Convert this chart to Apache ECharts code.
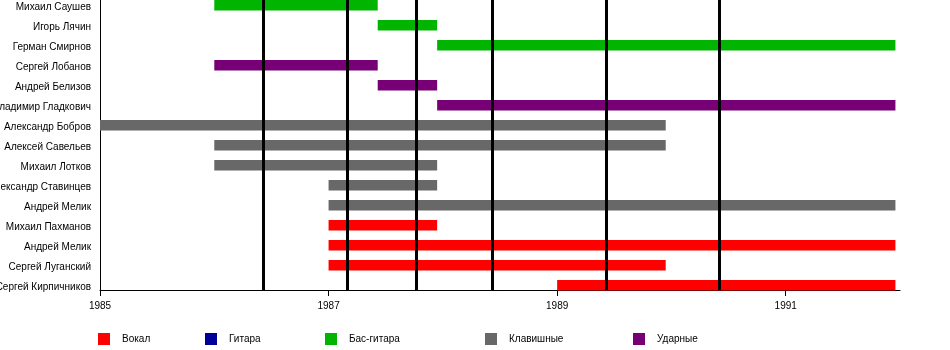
<!DOCTYPE html>
<html>
<head>
<meta charset="utf-8">
<script src="https://cdn.jsdelivr.net/npm/echarts@6/dist/echarts.min.js"></script>
<style>
    html, body { margin: 0; padding: 0; background: #fff; }
    #timeline-chart { width: 950px; height: 350px; }
</style>
</head>
<body>
<div id="timeline-chart"></div>
<script>
    // row names, top to bottom
    const members = [
        'Михаил Саушев', 'Игорь Лячин', 'Герман Смирнов',
        'Сергей Лобанов', 'Андрей Белизов', 'Владимир Гладкович',
        'Александр Бобров', 'Алексей Савельев', 'Михаил Лотков',
        'Александр Ставинцев', 'Андрей Мелик', 'Михаил Пахманов',
        'Андрей Мелик', 'Сергей Луганский', 'Сергей Кирпичников'
    ]

    // [row, from, to] in years
    const vocals = [[11, 1987.0, 1987.95], [12, 1987.0, 1991.96], [13, 1987.0, 1989.95], [14, 1989.0, 1991.96]]
    const guitar = []
    const bass = [[0, 1986.0, 1987.43], [1, 1987.43, 1987.95], [2, 1987.95, 1991.96]]
    const keys = [[6, 1985.0, 1989.95], [7, 1986.0, 1989.95], [8, 1986.0, 1987.95], [9, 1987.0, 1987.95], [10, 1987.0, 1991.96]]
    const drums = [[3, 1986.0, 1987.43], [4, 1987.43, 1987.95], [5, 1987.95, 1991.96]]

    // vertical event lines (albums)
    const eventYears = [1986.43, 1987.16, 1987.77, 1988.43, 1989.43, 1990.42]

    const startYear = 1985
    const endYear = 1992
    const labelYears = [1985, 1987, 1989, 1991]

    const roles = [
        {name: 'Вокал', color: '#ff0000', data: vocals, left: 98},
        {name: 'Гитара', color: '#000099', data: guitar, left: 205},
        {name: 'Бас-гитара', color: '#00b400', data: bass, left: 325},
        {name: 'Клавишные', color: '#686868', data: keys, left: 485},
        {name: 'Ударные', color: '#770077', data: drums, left: 633}
    ]

    const font = 'Liberation Sans, Arial, sans-serif'

    function renderBar (params, api) {
        let row = api.value(0)
        let from = api.coord([api.value(1), row])
        let to = api.coord([api.value(2), row])
        let band = api.size([0, 1])[1]
        return {
            type: 'rect',
            shape: {x: from[0], y: from[1], width: to[0] - from[0], height: band * 0.53},
            style: api.style()
        }
    }

    let series = roles.map(role => ({
        name: role.name,
        type: 'custom',
        renderItem: renderBar,
        itemStyle: {color: role.color},
        encode: {x: [1, 2], y: 0},
        data: role.data.map(d => [d[0], d[1] - startYear, d[2] - startYear])
    }))

    series[0].markLine = {
        silent: true,
        symbol: 'none',
        label: {show: false},
        lineStyle: {color: '#000', width: 3, type: 'solid'},
        data: eventYears.map(y => ({xAxis: y - startYear}))
    }

    let tickValues = labelYears.map(y => y - startYear)

    let chartOption = {
        animation: false,
        backgroundColor: '#fff',
        textStyle: {fontFamily: font},
        grid: {left: 100, right: 50, top: -10, bottom: 60, outerBoundsMode: 'none', containLabel: false},
        legend: roles.map(role => ({
            data: [role.name],
            left: role.left,
            top: 333,
            padding: 0,
            itemWidth: 12,
            itemHeight: 12,
            icon: 'rect',
            selectedMode: false,
            textStyle: {fontSize: 10, color: '#000', fontFamily: font, padding: [0, 0, 0, 7]}
        })),
        xAxis: {
            type: 'value',
            min: 0,
            max: endYear - startYear,
            interval: 2,
            splitLine: {show: false},
            axisLine: {show: true, onZero: false, lineStyle: {color: '#000', width: 1}},
            axisTick: {show: true, length: 6, lineStyle: {color: '#000'}, customValues: tickValues},
            axisLabel: {
                fontSize: 10,
                color: '#000',
                margin: 11,
                customValues: tickValues,
                formatter: v => String(v + startYear)
            }
        },
        yAxis: {
            type: 'category',
            inverse: true,
            data: members,
            axisLine: {show: true, lineStyle: {color: '#000', width: 1}},
            axisTick: {show: false},
            splitLine: {show: false},
            axisLabel: {
                fontSize: 10,
                color: '#000',
                margin: 9,
                verticalAlign: 'top',
                padding: [2, 0, 0, 0]
            }
        },
        series: series
    }

    let chart = echarts.init(document.getElementById('timeline-chart'))
    chart.setOption(chartOption)
</script>
</body>
</html>
